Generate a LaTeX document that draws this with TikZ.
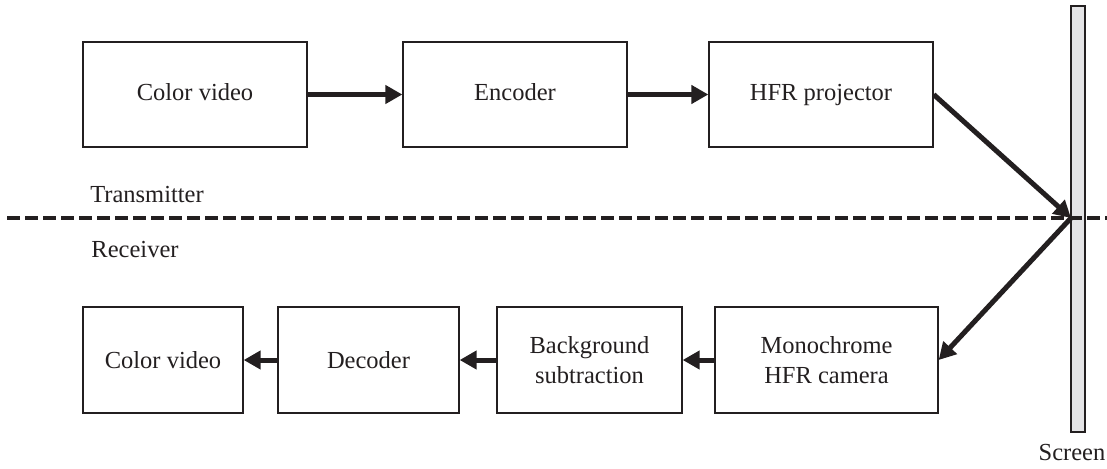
\documentclass[tikz,border=0pt]{standalone}
\usepackage{fontspec}
\setmainfont{Liberation Serif}
\usetikzlibrary{arrows.meta}
\definecolor{ink}{RGB}{35,31,32}
\definecolor{screenfill}{RGB}{228,228,230}
\begin{document}
\begin{tikzpicture}[x=1pt,y=-1pt,
  txt/.style={text=ink, font=\fontsize{24.5}{30}\selectfont},
  box/.style={txt, draw=ink, line width=1.3pt, inner sep=0pt, align=center},
  toprow/.style={box, minimum height=105pt, text height=17pt, text depth=5pt},
  botrow/.style={box, minimum height=106pt},
  flow/.style={draw=ink, line width=5pt, -{Triangle[length=17pt,width=18pt]}},
  divider/.style={draw=ink, line width=4pt, dash pattern=on 13pt off 5pt}]
\useasboundingbox (0,0) rectangle (1107,468);
% top row
\node[toprow, minimum width=224pt] (cv1) at (195,94.5) {Color video};
\node[toprow, minimum width=224pt] (enc) at (515,94.5) {Encoder};
\node[toprow, minimum width=224pt] (hfr) at (821,94.5) {HFR projector};
% bottom row
\node[botrow, minimum width=160pt] (cv2) at (163,360) {Color video};
\node[botrow, minimum width=181pt] (dec) at (368.5,360) {Decoder};
\node[botrow, minimum width=185pt] (bg) at (589.5,360) {Background\\subtraction};
\node[botrow, minimum width=223pt] (mono) at (826.5,360) {Monochrome\\HFR camera};
% screen
\node[draw=ink, fill=screenfill, line width=1.2pt, inner sep=0pt,
      minimum width=14pt, minimum height=426pt] (screen) at (1078,219) {};
\node[txt] (screenlbl) at (1072,453) {Screen};
% divider
\coordinate (dl) at (7,218);
\coordinate (dr) at (1107,218);
\draw[divider] (dl) -- (dr);
\node[txt] (tx) at (147,195) {Transmitter};
\node[txt] (rx) at (135,250) {Receiver};
% connectors
\coordinate (hit) at (1071,218);
\draw[flow] (cv1.east) -- (enc.west);
\draw[flow] (enc.east) -- (hfr.west);
\draw[flow] (hfr.east) -- (hit);
\draw[flow, shorten <=-1pt] (hit) -- (mono.east);
\draw[flow] (mono.west) -- (bg.east);
\draw[flow] (bg.west) -- (dec.east);
\draw[flow] (dec.west) -- (cv2.east);
\end{tikzpicture}
\end{document}
